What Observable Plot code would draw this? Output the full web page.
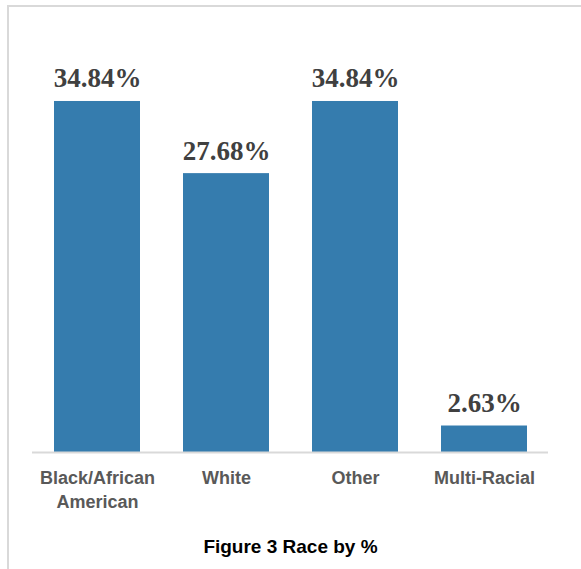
<!DOCTYPE html>
<html>
<head>
<meta charset="utf-8">
<script src="https://cdn.jsdelivr.net/npm/d3@7"></script>
<script src="https://cdn.jsdelivr.net/npm/@observablehq/plot@0.6"></script>
<style>
  html, body { margin: 0; padding: 0; background: #fff; }
  #wrap { position: relative; width: 581px; height: 569px; overflow: hidden; }
  #frame { position: absolute; left: 7px; top: 5px; right: -5px; bottom: -5px;
           border-top: 2px solid #d9d9d9; border-left: 2px solid #d9d9d9; }
  #chart { position: absolute; left: 0; top: 0; }
  #caption { position: absolute; left: 0; width: 581px; top: 536px; text-align: center;
             font-family: "Liberation Sans", Arial, sans-serif;
             font-weight: bold; font-size: 19px; color: #000; }
</style>
</head>
<body>
<div id="wrap">
  <div id="frame"></div>
  <div id="chart"></div>
  <div id="caption">Figure 3 Race by %</div>
</div>
<script>
const categories = ["Black/African American", "White", "Other", "Multi-Racial"];
const tickLabels = ["Black/African\nAmerican", "White", "Other", "Multi-Racial"];
const values = [34.84, 27.68, 34.84, 2.63];
const valueLabels = ["34.84%", "27.68%", "34.84%", "2.63%"];

const data = categories.map((c, i) => ({ category: c, value: values[i], label: valueLabels[i] }));

const chart = Plot.plot({
  width: 581,
  height: 520,
  marginLeft: 32,
  marginRight: 33,
  marginTop: 49,
  marginBottom: 68,
  style: { background: "transparent" },
  x: { domain: categories, paddingInner: 1 / 3, paddingOuter: 1 / 6, axis: null },
  y: { domain: [0, 40], axis: null },
  marks: [
    Plot.barY(data, { x: "category", y: "value", fill: "#357CAE" }),
    Plot.ruleY([0], { stroke: "#d9d9d9", strokeWidth: 2 }),
    Plot.text(data, {
      x: "category", y: "value", text: "label", lineAnchor: "bottom", dy: -14,
      fontFamily: "Liberation Serif", fontWeight: "bold",
      fontSize: 27, fill: "#404040"
    }),
    Plot.axisX({
      domain: categories,
      tickSize: 0, tickPadding: 15,
      tickFormat: (d) => tickLabels[categories.indexOf(d)],
      fontSize: 18, lineHeight: 1.33,
      fontFamily: "Liberation Sans",
      fontWeight: "bold", fill: "#595959", label: null
    })
  ]
});
document.getElementById("chart").appendChild(chart);
</script>
</body>
</html>
